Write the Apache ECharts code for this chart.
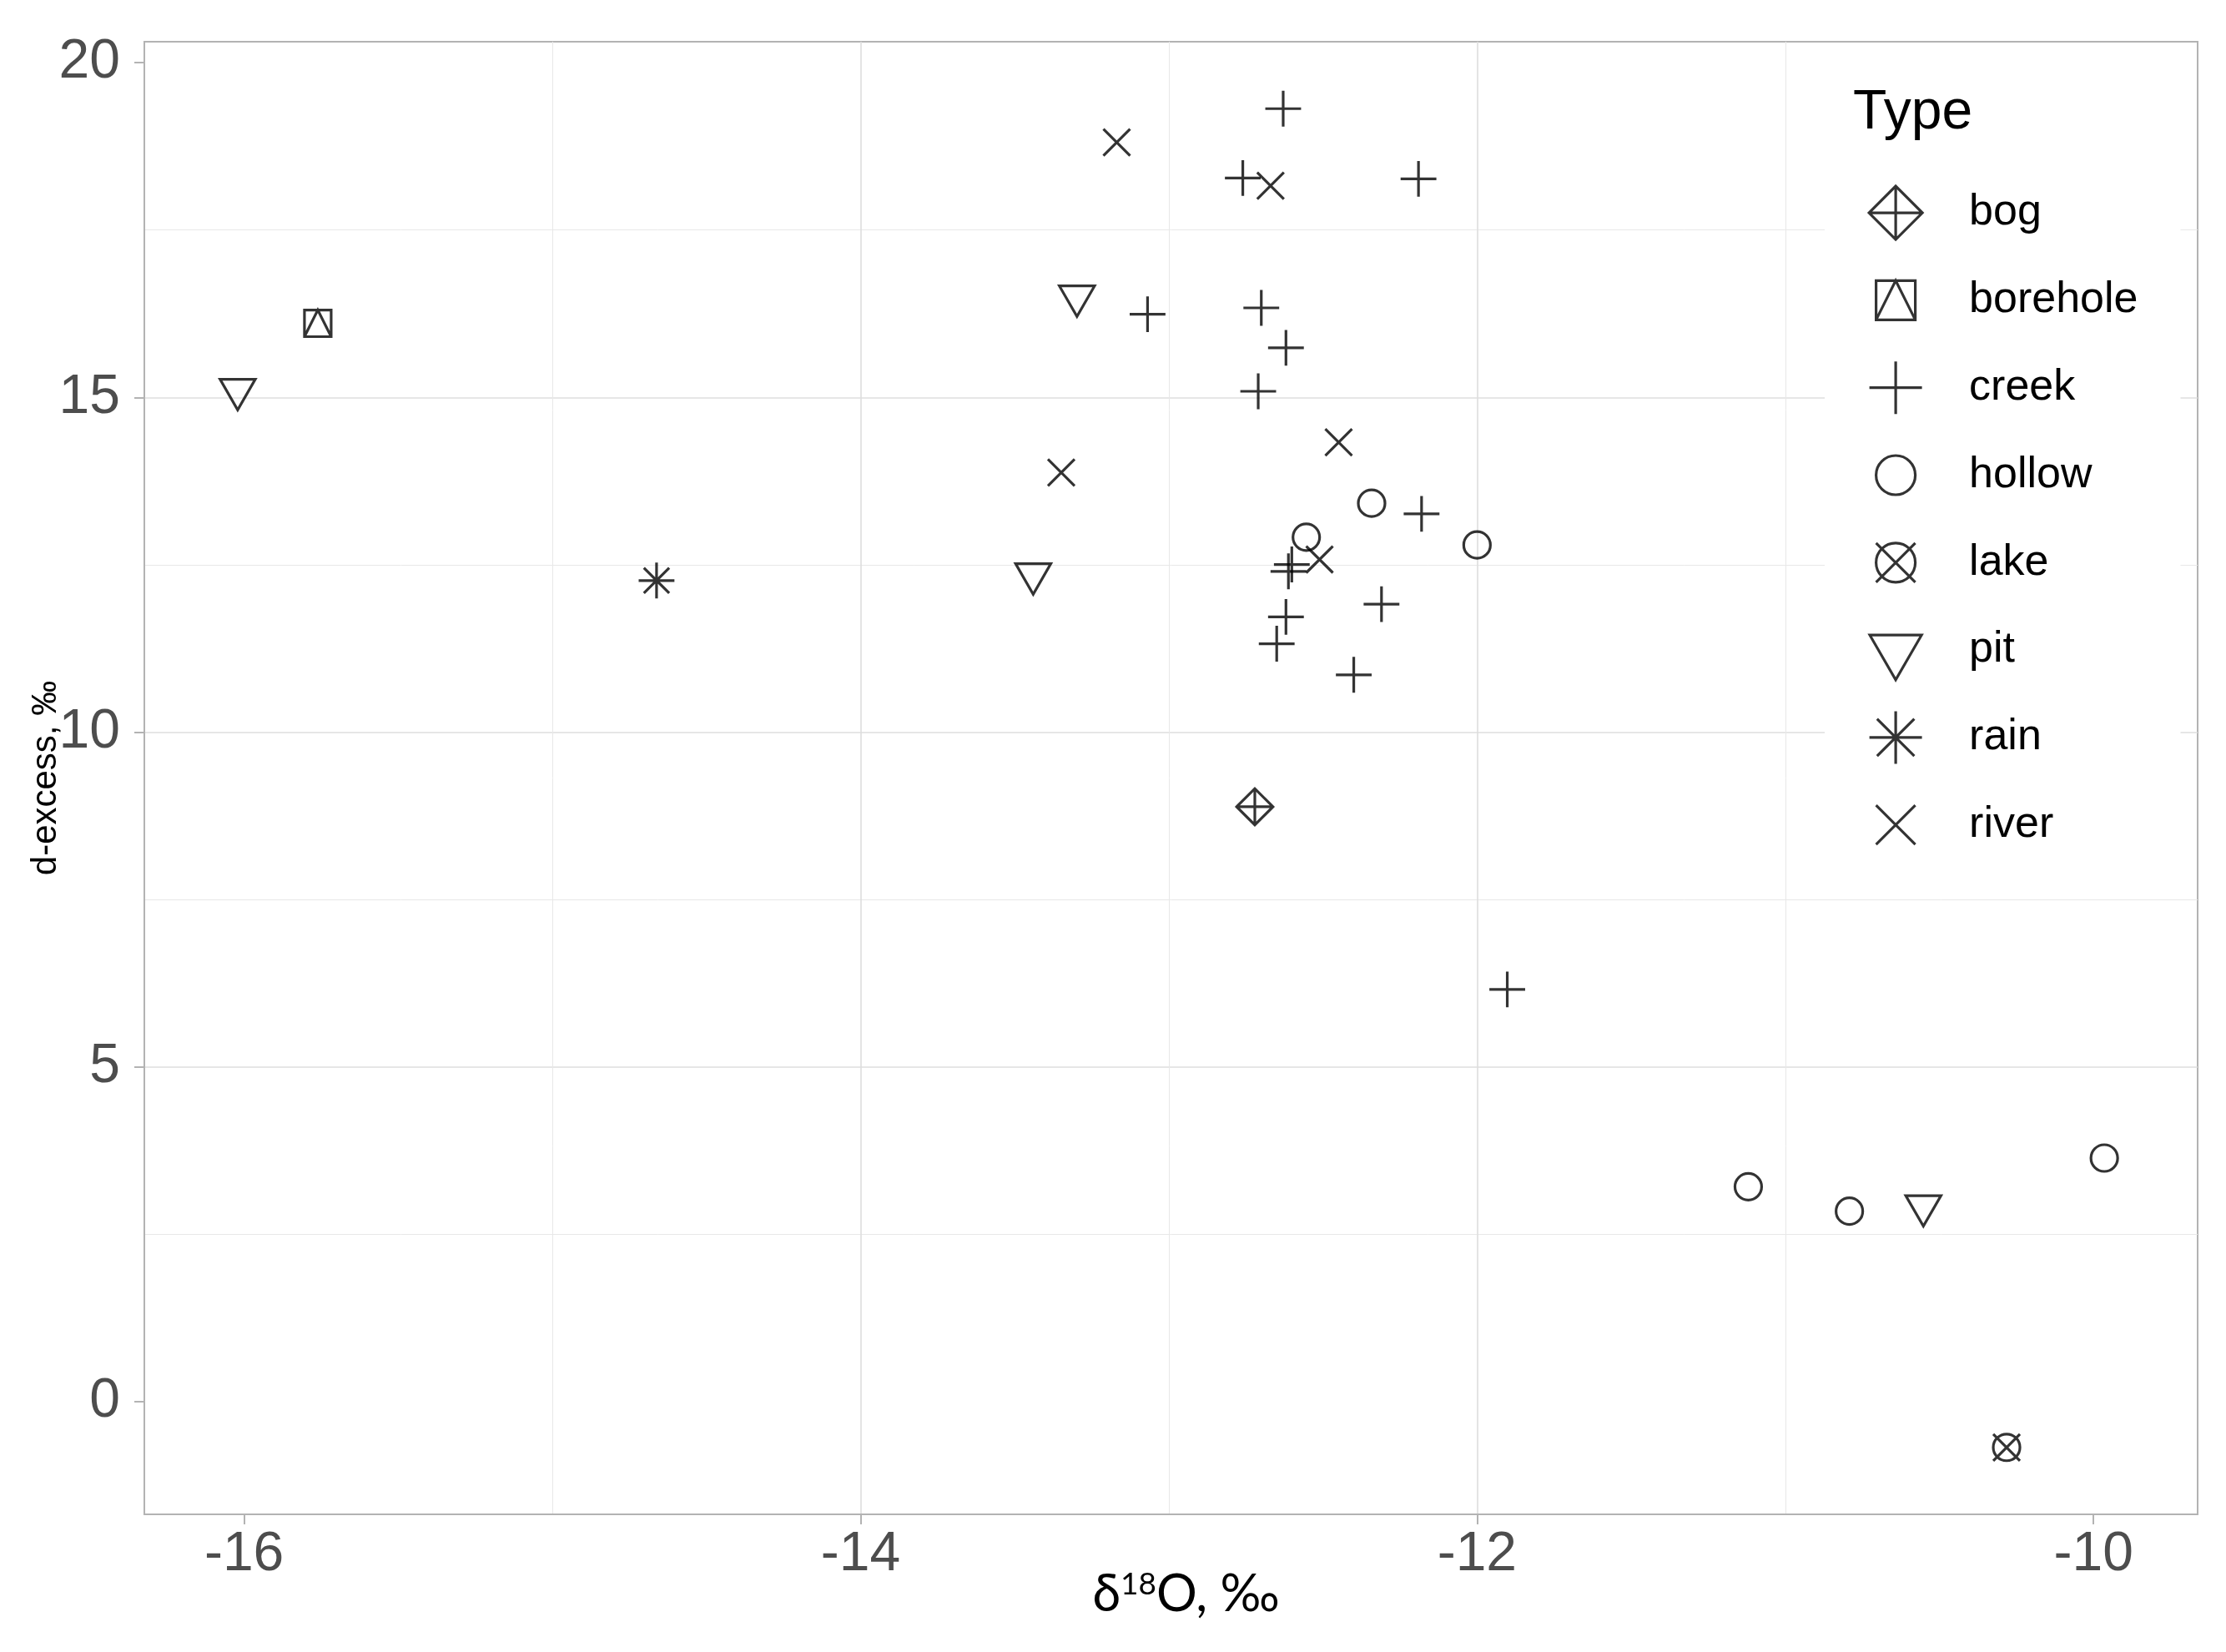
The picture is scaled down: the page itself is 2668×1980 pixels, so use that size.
<!DOCTYPE html>
<html>
<head>
<meta charset="utf-8" />
<title>d-excess vs d18O</title>
<script src="https://cdn.jsdelivr.net/npm/echarts@6/dist/echarts.min.js"></script>
<style>
  html, body { margin: 0; padding: 0; background: #fff; }
</style>
</head>
<body>
<div id="main" style="width: 2668px;height:1980px;"></div>
<script>
    // d18O (x) and d-excess (y) per sample type
    var bog = [[-12.721, 8.887]];
    var borehole = [[-15.761, 16.107]];
    var creek = [
        [-12.629, 19.313], [-12.760, 18.277], [-12.190, 18.264], [-13.069, 16.243],
        [-12.700, 16.338], [-12.620, 15.741], [-12.710, 15.092], [-12.180, 13.261],
        [-12.601, 12.506], [-12.612, 12.403], [-12.310, 11.913], [-12.620, 11.723],
        [-12.650, 11.322], [-12.400, 10.858], [-11.902, 6.159]
    ];
    var hollow = [[-12.342, 13.420], [-12.000, 12.797], [-12.554, 12.913], [-11.120, 3.213], [-10.792, 2.848], [-9.965, 3.641]];
    var lake = [[-10.282, -0.680]];
    var pit = [[-16.021, 15.119], [-13.298, 16.514], [-13.440, 12.365], [-10.552, 2.928]];
    var rain = [[-14.662, 12.266]];
    var river = [[-13.169, 18.811], [-12.670, 18.163], [-12.449, 14.329], [-13.349, 13.878], [-12.511, 12.581]];

    var types = ['bog', 'borehole', 'creek', 'hollow', 'lake', 'pit', 'rain', 'river'];
    var seriesData = [bog, borehole, creek, hollow, lake, pit, rain, river];

    var xTicks = [-16, -14, -12, -10];
    var yTicks = [0, 5, 10, 15, 20];

    // open R-style point shapes drawn in a 72x72 frame (the two lone M's pin the frame)
    var frame = ' M0 0 M72 72';
    var circle = 'M12.5 36 A23.5 23.5 0 1 1 59.5 36 A23.5 23.5 0 1 1 12.5 36 Z';
    var cross = 'M12.5 12.5 L59.5 59.5 M59.5 12.5 L12.5 59.5';
    var plus = 'M4.5 36 L67.5 36 M36 4.5 L36 67.5';
    var shapes = {
        bog: 'M4 36 L36 4 L68 36 L36 68 Z M4 36 L68 36 M36 4 L36 68',
        borehole: 'M12.5 12.5 L59.5 12.5 L59.5 59.5 L12.5 59.5 Z M12.5 59.5 L36 12.5 L59.5 59.5',
        creek: plus,
        hollow: circle,
        lake: circle + ' ' + cross,
        pit: 'M5 18.1 L67 18.1 L36 71.8 Z',
        rain: plus + ' M13.7 13.7 L58.3 58.3 M58.3 13.7 L13.7 58.3',
        river: cross
    };

    // ggplot-like 5% padding on both scales
    function padded(idx) {
        var vals = [];
        seriesData.forEach(function (s) { s.forEach(function (p) { vals.push(p[idx]); }); });
        var lo = Math.min.apply(null, vals), hi = Math.max.apply(null, vals);
        var d = (hi - lo) * 0.05;
        return [lo - d, hi + d];
    }
    var xr = padded(0), yr = padded(1);

    var sans = 'Liberation Sans, Arial, sans-serif';
    var tickFont = { fontSize: 66, color: '#4D4D4D', fontFamily: sans };
    var gridLine = { color: '#DEDEDE', width: 1.6 };
    var minorLine = { color: '#E8E8E8', width: 1 };
    var frameLine = { color: '#B3B3B3', width: 2 };
    var stroke = 3.2;

    var myChart = echarts.init(document.getElementById('main'));

    var option = {
        animation: false,
        backgroundColor: '#fff',
        title: {
            text: 'Type',
            left: 2221,
            top: 103,
            padding: 0,
            textStyle: { fontSize: 66, fontWeight: 'normal', color: '#000', fontFamily: sans }
        },
        legend: {
            orient: 'vertical',
            left: 2187,
            top: 64,
            padding: [153.5, 51, 49.5, 47.5],
            itemGap: 29.6,
            itemWidth: 72,
            itemHeight: 72,
            backgroundColor: '#fff',
            selectedMode: false,
            data: types,
            itemStyle: { color: 'transparent', borderColor: '#000', borderWidth: stroke },
            textStyle: { fontSize: 52, color: '#000', fontFamily: sans, padding: [0, 0, 0, 47] }
        },
        grid: {
            left: 173,
            right: 34,
            top: 50,
            bottom: 165,
            show: true,
            borderColor: '#B3B3B3',
            borderWidth: 2,
            outerBoundsMode: 'none'
        },
        xAxis: {
            type: 'value',
            position: 'bottom',
            min: xr[0],
            max: xr[1],
            minInterval: 2,
            maxInterval: 2,
            splitNumber: 3,
            name: '{a|δ}{s|18}{a|O, ‰}',
            nameLocation: 'middle',
            nameGap: 66,
            nameMoveOverlap: false,
            nameTextStyle: {
                padding: [0, 0, 0, 36],
                rich: {
                    a: { fontSize: 61, color: '#000', fontFamily: 'Lato, sans-serif' },
                    s: { fontSize: 37, color: '#000', fontFamily: 'Lato, sans-serif', verticalAlign: 'top' }
                }
            },
            axisLine: { show: true, onZero: false, lineStyle: frameLine },
            axisTick: { show: true, length: 12, lineStyle: frameLine, customValues: xTicks },
            axisLabel: Object.assign({ margin: 16, customValues: xTicks }, tickFont),
            splitLine: { show: true, showMinLine: false, showMaxLine: false, lineStyle: gridLine },
            minorTick: { show: false, splitNumber: 2 },
            minorSplitLine: { show: true, lineStyle: minorLine }
        },
        yAxis: {
            type: 'value',
            position: 'left',
            min: yr[0],
            max: yr[1],
            minInterval: 5,
            maxInterval: 5,
            splitNumber: 4,
            name: 'd-excess, ‰',
            nameLocation: 'middle',
            nameGap: 97,
            nameMoveOverlap: false,
            nameTextStyle: { fontSize: 42, color: '#000', fontFamily: sans },
            axisLine: { show: true, onZero: false, lineStyle: frameLine },
            axisTick: { show: true, length: 12, lineStyle: frameLine, customValues: yTicks },
            axisLabel: Object.assign({ margin: 29, customValues: yTicks }, tickFont),
            splitLine: { show: true, showMinLine: false, showMaxLine: false, lineStyle: gridLine },
            minorTick: { show: false, splitNumber: 2 },
            minorSplitLine: { show: true, lineStyle: minorLine }
        },
        series: types.map(function (t, i) {
            return {
                name: t,
                type: 'scatter',
                symbol: 'path://' + shapes[t] + frame,
                symbolSize: 49,
                itemStyle: { color: 'transparent', borderColor: '#000', borderWidth: stroke },
                emphasis: { disabled: true },
                data: seriesData[i]
            };
        })
    };

    myChart.setOption(option);
</script>
</body>
</html>
